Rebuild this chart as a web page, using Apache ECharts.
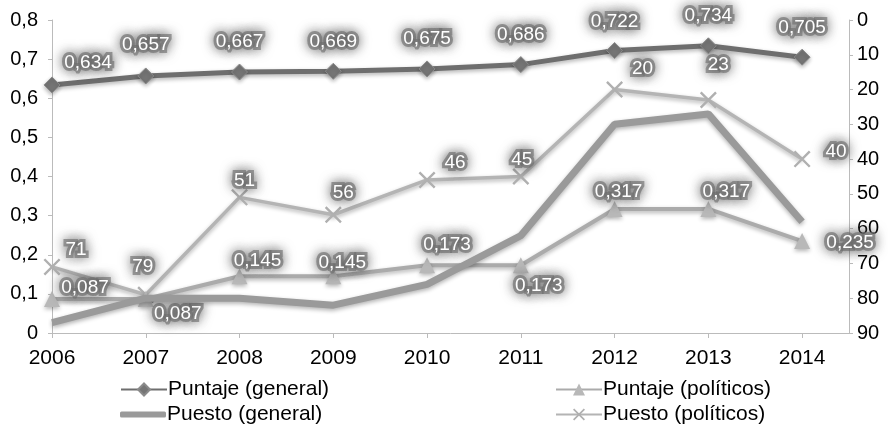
<!DOCTYPE html>
<html>
<head>
<meta charset="utf-8">
<script src="https://cdn.jsdelivr.net/npm/echarts@6/dist/echarts.min.js"></script>
<style>
html, body { margin: 0; padding: 0; background: #fff; }
#chart { width: 888px; height: 424px; }
</style>
</head>
<body>
<div id="chart"></div>
<script>
// datos
var years = [2006, 2007, 2008, 2009, 2010, 2011, 2012, 2013, 2014];
var puntajeGeneral = [0.634, 0.657, 0.667, 0.669, 0.675, 0.686, 0.722, 0.734, 0.705];
var puntajePoliticos = [0.087, 0.087, 0.145, 0.145, 0.173, 0.173, 0.317, 0.317, 0.235];
var puestoGeneral = [87, 80, 80, 82, 76, 62, 30, 27, 58];
var puestoPoliticos = [71, 79, 51, 56, 46, 45, 20, 23, 40];

// desplazamiento de las etiquetas (centro de la etiqueta respecto al punto)
var offPuntajeGen = [[36, -22], [0, -31], [0, -30], [0, -29], [0, -30], [0, -30], [0, -29], [0, -30], [0, -29]];
var offPuntajePol = [[33, -11], [32, 15], [18, -16], [9, -14], [20, -21], [18, 20], [4, -17], [18, -17], [48, 2]];
var offPuestoGen = [[24, 8], [-18, 27], [8, 19], [33, 11], [30, 13], [-5, -15], [8, -12], [29, -5], [-1, -29]];
var offPuestoPol = [[24, -17], [-3, -28], [5, -17], [10, -22], [28, -17], [1, -17], [28, -21], [10, -35], [34, -7]];

var FONT = 'Liberation Sans, Arial, Helvetica, sans-serif';
var crossPath = 'path://M0,1L1,0L10,9L9,10ZM9,0L10,1L1,10L0,9Z';

function coma(v, d) {
	return (+v.toFixed(d)).toString().replace('.', ',');
}

function puntos(vals, offs) {
	return years.map(function (y, i) {
		return { value: [y, vals[i]], label: { offset: offs[i] } };
	});
}

var etiqueta = {
	show: true,
	position: 'inside',
	fontFamily: FONT,
	fontSize: 19,
	color: '#fff',
	textBorderColor: 'rgba(115,115,115,0.65)',
	textBorderWidth: 6,
	textShadowColor: 'rgba(80,80,80,1)',
	textShadowBlur: 12
};

var sombra = { shadowColor: 'rgba(0,0,0,0.3)', shadowBlur: 4, shadowOffsetY: 2 };

function leyenda(nombre, x, y, alto, icono) {
	var l = {
		left: x,
		top: y,
		itemWidth: 46,
		itemHeight: alto,
		itemGap: 0,
		padding: 0,
		textStyle: { fontFamily: FONT, fontSize: 21, color: '#000', padding: [0, 0, 0, -4] },
		data: [nombre]
	};
	if (icono) l.icon = icono;
	return l;
}

var myChart = echarts.init(document.getElementById('chart'));
myChart.setOption({
	animation: false,
	grid: { left: 52, right: 39, top: 20, bottom: 91, containLabel: false },
	legend: [
		leyenda('Puntaje (general)', 120, 379, 15),
		leyenda('Puesto (general)', 120, 404, 6, 'roundRect'),
		leyenda('Puntaje (políticos)', 555, 379, 15),
		leyenda('Puesto (políticos)', 555, 404, 15)
	],
	xAxis: {
		type: 'value',
		min: 2006,
		max: 2014.5,
		interval: 1,
		splitLine: { show: false },
		axisLine: { lineStyle: { color: '#bbb', width: 1 } },
		axisTick: { show: true, length: 5, lineStyle: { color: '#bbb' }, customValues: years },
		axisLabel: {
			customValues: years,
			margin: 15,
			fontFamily: FONT,
			fontSize: 21,
			color: '#000',
			formatter: function (v) { return String(v); }
		}
	},
	yAxis: [{
		type: 'value',
		min: 0,
		max: 0.8,
		interval: 0.1,
		splitLine: { show: false },
		axisLine: { show: true, lineStyle: { color: '#bbb' } },
		axisTick: { show: true, length: 4, lineStyle: { color: '#bbb' } },
		axisLabel: {
			margin: 14,
			fontFamily: FONT,
			fontSize: 20,
			color: '#000',
			formatter: function (v) { return coma(v, 1); }
		}
	}, {
		type: 'value',
		inverse: true,
		min: 0,
		max: 90,
		interval: 10,
		splitLine: { show: false },
		axisLine: { show: true, lineStyle: { color: '#bbb' } },
		axisTick: { show: true, length: 4, lineStyle: { color: '#bbb' } },
		axisLabel: { margin: 8, fontFamily: FONT, fontSize: 20, color: '#000' }
	}],
	series: [{
		name: 'Puntaje (general)',
		type: 'line',
		yAxisIndex: 0,
		data: puntos(puntajeGeneral, offPuntajeGen),
		symbol: 'diamond',
		symbolSize: 16,
		lineStyle: Object.assign({ color: '#6e6e6e', width: 5 }, sombra),
		itemStyle: Object.assign({ color: '#757575', borderColor: '#8a8a8a', borderWidth: 1 }, sombra),
		label: Object.assign({ formatter: function (p) { return coma(p.value[1], 3); } }, etiqueta),
		z: 5
	}, {
		name: 'Puntaje (políticos)',
		type: 'line',
		yAxisIndex: 0,
		data: puntos(puntajePoliticos, offPuntajePol),
		symbol: 'triangle',
		symbolSize: 16,
		lineStyle: Object.assign({ color: '#ababab', width: 4 }, sombra),
		itemStyle: Object.assign({ color: '#b8b8b8' }, sombra),
		label: Object.assign({ formatter: function (p) { return coma(p.value[1], 3); } }, etiqueta),
		z: 3
	}, {
		name: 'Puesto (general)',
		type: 'line',
		yAxisIndex: 1,
		data: puntos(puestoGeneral, offPuestoGen),
		symbol: 'none',
		lineStyle: Object.assign({ color: '#9a9a9a', width: 7 }, sombra),
		itemStyle: { color: '#9a9a9a' },
		label: Object.assign({ formatter: function (p) { return String(p.value[1]); } }, etiqueta),
		z: 4
	}, {
		name: 'Puesto (políticos)',
		type: 'line',
		yAxisIndex: 1,
		data: puntos(puestoPoliticos, offPuestoPol),
		symbol: crossPath,
		symbolSize: 17,
		lineStyle: Object.assign({ color: '#b4b4b4', width: 3.5 }, sombra),
		itemStyle: { color: '#b0b0b0' },
		label: Object.assign({ formatter: function (p) { return String(p.value[1]); } }, etiqueta),
		z: 2
	}]
});
</script>
</body>
</html>
